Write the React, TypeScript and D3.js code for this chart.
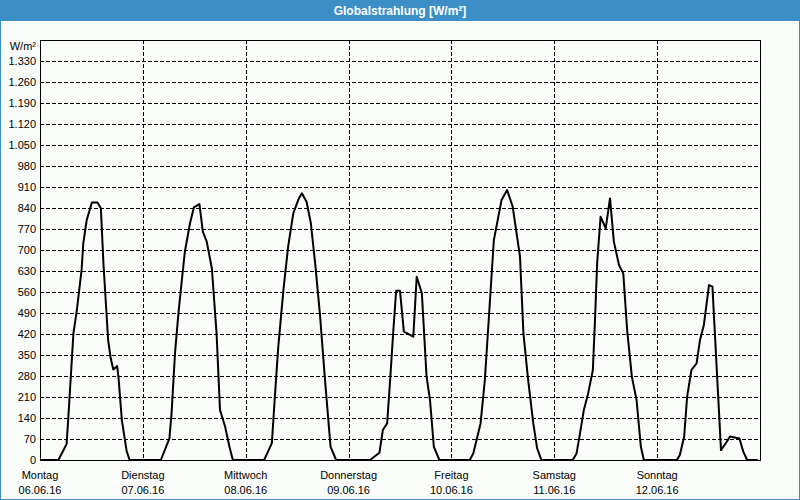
import { useEffect, useRef } from "react";
import * as d3 from "d3";

// each day: [hour of day, W/m²]
const montag = [[0, 0], [4.3, 0], [6.2, 53], [6.6, 139], [7.8, 422], [8.6, 500], [9.7, 633], [10.1, 722], [10.9, 800], [12.1, 858], [13.4, 858], [14.2, 839], [14.8, 656], [15.9, 400], [16.5, 339], [17.1, 302], [18.0, 313], [18.3, 278], [19.1, 133], [20.2, 31], [20.9, 0], [24, 0]];
const dienstag = [[0, 0], [4.2, 0], [6.2, 72], [6.7, 156], [7.5, 356], [8.3, 489], [9.1, 600], [9.8, 694], [11, 789], [11.9, 842], [13.2, 853], [14, 761], [14.9, 728], [16.1, 639], [17.2, 422], [18, 167], [19.2, 111], [20.2, 44], [21, 0], [24, 0]];
const mittwoch = [[0, 0], [4.3, 0], [6.1, 56], [6.8, 211], [7.6, 378], [8.8, 567], [9.9, 711], [11.1, 822], [12.4, 872], [13.1, 889], [14.2, 861], [15.2, 789], [16.2, 656], [17.3, 489], [18.5, 267], [19.8, 44], [21.1, 0], [24, 0]];
const donnerstag = [[0, 0], [5, 0], [7.2, 24], [8, 100], [9, 122], [9.7, 267], [10.4, 422], [11.1, 564], [12, 564], [12.9, 428], [15.1, 411], [15.9, 611], [17.1, 556], [18.2, 278], [19, 200], [19.9, 44], [21.2, 0], [24, 0]];
const freitag = [[0, 0], [4.3, 0], [5.1, 22], [6.8, 122], [7.8, 267], [8.8, 489], [9.9, 733], [11.7, 867], [13, 900], [14.3, 844], [16, 678], [16.8, 422], [17.9, 267], [19.1, 122], [20, 39], [21, 0], [24, 0]];
const samstag = [[0, 0], [4.3, 0], [5.2, 22], [6, 89], [6.9, 167], [7.9, 222], [9, 300], [9.5, 467], [10, 656], [10.8, 811], [12, 772], [13, 872], [13.9, 728], [15.1, 650], [16.1, 622], [17, 433], [18.1, 278], [19.2, 200], [20.2, 44], [20.9, 0], [24, 0]];
const sonntag = [[0, 0], [4.6, 0], [5.3, 17], [6.3, 78], [7, 211], [8, 300], [9.2, 322], [10, 400], [10.9, 450], [12.1, 583], [12.9, 578], [14.9, 33], [16, 56], [17, 78], [19.2, 72], [20.1, 28], [21, 0], [23.5, 0]];

const dayNames = ["Montag", "Dienstag", "Mittwoch", "Donnerstag", "Freitag", "Samstag", "Sonntag"];
const dayDates = ["06.06.16", "07.06.16", "08.06.16", "09.06.16", "10.06.16", "11.06.16", "12.06.16"];
const yTicks = d3.range(0, 1331, 70);

const title = "Globalstrahlung [W/m²]";
const unit = "W/m²";

export default function App() {
  const ref = useRef<SVGSVGElement | null>(null);

  useEffect(() => {
    if (!ref.current) return;
    const W = 800;
    const H = 500;
    const margin = { top: 40, right: 40, bottom: 40, left: 40 };
    const font = "'Liberation Sans', Arial, sans-serif";

    const root = d3.select(ref.current);
    root.selectAll("*").remove();
    root.attr("width", W).attr("height", H);

    root.append("rect").attr("width", W).attr("height", H).attr("fill", "#fafcfa");
    // frame of the window
    root
      .append("rect")
      .attr("x", 0.5)
      .attr("y", 0.5)
      .attr("width", W - 1)
      .attr("height", H - 1)
      .attr("fill", "none")
      .attr("stroke", "#3b8fc6");
    root.append("rect").attr("width", W).attr("height", 21).attr("fill", "#3b8fc6");
    root
      .append("text")
      .attr("x", W / 2)
      .attr("y", 15)
      .attr("text-anchor", "middle")
      .attr("fill", "#fff")
      .attr("font-family", font)
      .attr("font-size", 12)
      .attr("font-weight", "bold")
      .text(title);

    const days = [montag, dienstag, mittwoch, donnerstag, freitag, samstag, sonntag];
    const data: [number, number][] = days.flatMap((d, i) =>
      d.map((p) => [i * 24 + p[0], p[1]] as [number, number])
    );

    const x = d3.scaleLinear().domain([0, 168]).range([margin.left, W - margin.right]);
    const y = d3.scaleLinear().domain([0, 1400]).range([H - margin.bottom, margin.top]);
    const px = (v: number) => Math.round(v) + 0.5;

    const grid = root.append("g").attr("stroke", "#000").attr("stroke-dasharray", "4,2");
    yTicks
      .filter((t) => t > 0)
      .forEach((t) => {
        grid
          .append("line")
          .attr("x1", x(0))
          .attr("x2", x(168))
          .attr("y1", px(y(t)))
          .attr("y2", px(y(t)));
      });
    d3.range(24, 168, 24).forEach((h) => {
      grid
        .append("line")
        .attr("x1", px(x(h)))
        .attr("x2", px(x(h)))
        .attr("y1", y(1400))
        .attr("y2", y(0));
    });

    root
      .append("rect")
      .attr("x", px(x(0)))
      .attr("y", px(y(1400)))
      .attr("width", Math.round(x(168) - x(0)))
      .attr("height", Math.round(y(0) - y(1400)))
      .attr("fill", "none")
      .attr("stroke", "#000");

    const de = d3.formatLocale({ decimal: ",", thousands: ".", grouping: [3], currency: ["", " €"] });
    const fmt = de.format(",d");

    const yl = root
      .append("g")
      .attr("font-family", font)
      .attr("font-size", 11)
      .attr("fill", "#000")
      .attr("text-anchor", "end");
    yTicks.forEach((t) => {
      yl.append("text").attr("x", 36).attr("y", y(t) + 4).text(fmt(t));
    });
    yl.append("text").attr("x", 36).attr("y", 50).text(unit);

    const xl = root
      .append("g")
      .attr("font-family", font)
      .attr("font-size", 11)
      .attr("fill", "#000")
      .attr("text-anchor", "middle");
    dayNames.forEach((n, i) => {
      xl.append("text").attr("x", x(i * 24)).attr("y", 479).text(n);
      xl.append("text").attr("x", x(i * 24)).attr("y", 494).text(dayDates[i]);
    });

    const line = d3
      .line<[number, number]>()
      .x((d) => x(d[0]))
      .y((d) => y(d[1]));

    root
      .append("path")
      .datum(data)
      .attr("fill", "none")
      .attr("stroke", "#000")
      .attr("stroke-width", 2)
      .attr("stroke-linejoin", "round")
      .attr("d", line);
  }, []);

  return <svg ref={ref} style={{ position: "absolute", left: 0, top: 0 }} />;
}
